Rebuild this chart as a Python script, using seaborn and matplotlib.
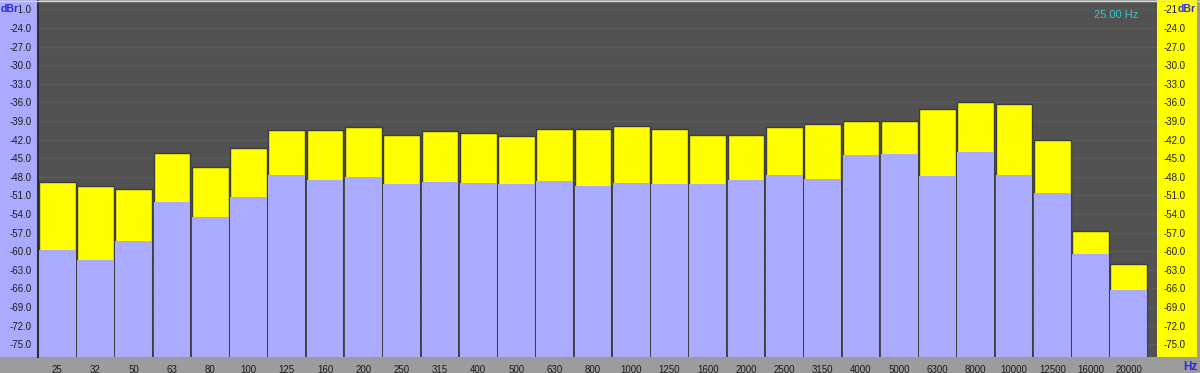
import matplotlib
matplotlib.use("Agg")
import matplotlib.pyplot as plt
from matplotlib import font_manager
from matplotlib.patches import Rectangle
from matplotlib.ticker import FormatStrFormatter
import numpy as np
import seaborn as sns

# 1/3 octave bands and levels (dBr)
bands = ["25", "32", "50", "63", "80", "100", "125", "160", "200", "250",
         "315", "400", "500", "630", "800", "1000", "1250", "1600", "2000",
         "2500", "3150", "4000", "5000", "6300", "8000", "10000", "12500",
         "16000", "20000"]
peak = [-48.9, -49.5, -50.0, -44.1, -46.5, -43.4, -40.4, -40.5, -40.0, -41.3,
        -40.7, -41.0, -41.5, -40.3, -40.3, -39.8, -40.3, -41.3, -41.2,
        -40.0, -39.5, -39.0, -39.0, -37.1, -36.0, -36.2, -42.0, -56.7, -62.1]
rms = [-59.8, -61.4, -58.4, -52.0, -54.5, -51.3, -47.8, -48.5, -48.0, -49.1,
       -48.8, -49.0, -49.2, -48.7, -49.5, -49.0, -49.1, -49.2, -48.6,
       -47.7, -48.3, -44.5, -44.3, -47.9, -44.0, -47.8, -50.7, -60.5, -66.3]
y_ticks = np.arange(-75, -20, 3)

FLOOR = -80.0
BG = "#525252"
GRID = "#5b5b5b"
LAVENDER = "#aaaaff"
YELLOW = "#ffff00"
STRIP = "#9c9c9c"
TEXT = "#1c1c1c"
BLUE = "#2a2ae0"

sns.set_style("dark")

# narrow font for the tick labels if there is one
installed = {f.name for f in font_manager.fontManager.ttflist}
if "Liberation Sans Narrow" in installed:
    tick_family, tick_size = "Liberation Sans Narrow", 8
else:
    tick_family, tick_size = "Liberation Sans", 7
plt.rcParams["font.family"] = [tick_family, "DejaVu Sans"]

W, H = 1200, 373
fig = plt.figure(figsize=(W / 100, H / 100), dpi=100, facecolor=STRIP)

# side panels behind the tick labels
fig.add_artist(Rectangle((0, 16 / H), 38 / W, 1 - 16 / H, transform=fig.transFigure,
                         facecolor=LAVENDER, edgecolor="none", zorder=0))
fig.add_artist(Rectangle((1157 / W, 16 / H), 40 / W, 1 - 16 / H, transform=fig.transFigure,
                         facecolor=YELLOW, edgecolor="none", zorder=0))

ax = fig.add_axes([38 / W, 16 / H, (1157 - 38) / W, 356 / H])
ax.set_facecolor(BG)

peak_h = [p - FLOOR for p in peak]
rms_h = [r - FLOOR for r in rms]

sns.barplot(x=bands, y=peak_h, order=bands, bottom=FLOOR, color=YELLOW,
            saturation=1, width=0.96, errorbar=None, edgecolor="#3c3c3c",
            linewidth=1, ax=ax)
sns.barplot(x=bands, y=rms_h, order=bands, bottom=FLOOR, color=LAVENDER,
            saturation=1, width=0.96, errorbar=None, linewidth=0, ax=ax)

ax.set_xlim(-0.5, 28.735)
ax.set_ylim(-77.08, -19.66)
ax.set_yticks(y_ticks)
ax.yaxis.set_major_formatter(FormatStrFormatter("%.1f"))
ax.set_xticks(range(len(bands)))
ax.set_xticklabels(bands)
ax.set_xticks(range(0, len(bands), 2), minor=True)
ax.set(xlabel=None, ylabel=None)

ax.set_axisbelow(True)
ax.grid(False)
ax.grid(axis="y", which="major", color=GRID, linewidth=1)
ax.grid(axis="x", which="minor", color=GRID, linewidth=1)

ax.tick_params(axis="y", which="both", left=False, right=False,
               labelleft=True, labelright=True, labelsize=tick_size,
               labelcolor=TEXT, pad=1)
ax.tick_params(axis="x", which="both", bottom=False, top=False,
               labelsize=tick_size, labelcolor=TEXT, pad=2)

for side in ["top", "right", "bottom"]:
    ax.spines[side].set_visible(False)
ax.spines["left"].set_color("#2e2e2e")
ax.spines["left"].set_linewidth(1.5)

# unit labels and readout
fig.text(0.5 / W, 1 - 9 / H, "dBr", color=BLUE, fontsize=7.5, fontweight="bold",
         ha="left", va="center",
         bbox=dict(facecolor=LAVENDER, edgecolor="none", pad=0.3))
fig.text(1178 / W, 1 - 9 / H, "dBr", color=BLUE, fontsize=7.5, fontweight="bold",
         ha="left", va="center",
         bbox=dict(facecolor=YELLOW, edgecolor="none", pad=0.3))
fig.text(1197 / W, 6 / H, "Hz", color=BLUE, fontsize=8.5, fontweight="bold",
         ha="right", va="center")
ax.text(0.983, 0.962, "25.00 Hz", transform=ax.transAxes, color="#36c8c8",
        fontsize=8, ha="right", va="center")

# thin light border along the top
fig.add_artist(plt.Line2D([0, 1], [1 - 0.5 / H, 1 - 0.5 / H], transform=fig.transFigure,
                          color="#d8d8d8", linewidth=1))

fig.savefig("out.png", dpi=100, facecolor=STRIP)
